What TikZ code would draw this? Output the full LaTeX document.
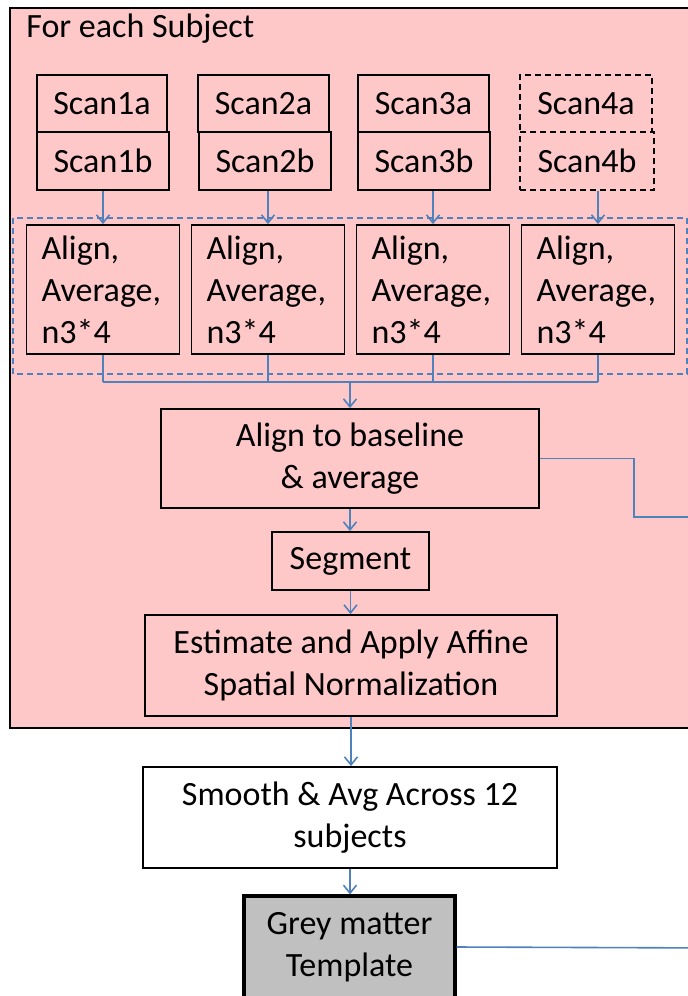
\documentclass[tikz,border=0pt]{standalone}
\usepackage{fontspec}
\setmainfont{Carlito}
\usetikzlibrary{arrows.meta}
\definecolor{subjpink}{RGB}{255,200,200}
\definecolor{flowblue}{RGB}{79,129,189}
\definecolor{tplgrey}{RGB}{192,192,192}
\tikzset{
  box/.style={draw=black, line width=0.9pt, fill=subjpink, inner sep=0pt,
    align=center, font=\fontsize{17pt}{21pt}\selectfont},
  dbox/.style={box, dashed, line width=0.8pt, dash pattern=on 3pt off 2pt},
  stepbox/.style={box, text width=61.5pt, align=left},
  flow/.style={draw=flowblue, line width=0.8pt},
  flowarrow/.style={flow, -{Straight Barb[length=4pt, width=6.5pt]}},
}
\begin{document}
\begin{tikzpicture}[x=0.5pt, y=-0.5pt]
\useasboundingbox (0,0) rectangle (688,996);
\clip (0,0) rectangle (688,996);

% per-subject container
\draw[fill=subjpink, line width=0.9pt] (10,8) rectangle (720,728);
\node[anchor=west, inner sep=0pt, font=\fontsize{17pt}{21pt}\selectfont] (title) at (26,29) {For each Subject};

% scan pairs
\node[box, minimum width=65pt, minimum height=28.5pt] (s1a) at (102,103.5) {Scan1a};
\node[box, minimum width=66pt, minimum height=29pt] (s1b) at (103,161) {Scan1b};
\node[box, minimum width=65.5pt, minimum height=28.5pt] (s2a) at (263.5,103.5) {Scan2a};
\node[box, minimum width=66pt, minimum height=29pt] (s2b) at (265,161) {Scan2b};
\node[box, minimum width=65.5pt, minimum height=28.5pt] (s3a) at (423.5,103.5) {Scan3a};
\node[box, minimum width=66pt, minimum height=29pt] (s3b) at (424,161) {Scan3b};
\node[dbox, minimum width=66pt, minimum height=28.5pt] (s4a) at (586,103.5) {Scan4a};
\node[dbox, minimum width=67pt, minimum height=29pt] (s4b) at (587,161) {Scan4b};

% dashed group around the per-scan steps
\draw[flow, dashed, line width=0.6pt, dash pattern=on 3pt off 2pt] (13,218) rectangle (687,374);

% per-scan align/average steps
\foreach \i/\cx in {1/103, 2/268, 3/433, 4/598} {
  \node[stepbox, minimum width=76.5pt, minimum height=64.5pt] (al\i) at (\cx,289.5)
    {Align,\\Average,\\n3*4};
}

% main chain
\node[box, minimum width=189pt, minimum height=49.5pt] (base) at (350,458.5) {Align to baseline\\\& average};
\node[box, minimum width=78.5pt, minimum height=29pt] (seg) at (350.5,561) {Segment};
\node[box, minimum width=206pt, minimum height=50.5pt] (aff) at (351,665.5) {Estimate and Apply Affine\\Spatial Normalization};
\node[box, fill=white, minimum width=207pt, minimum height=50.5pt] (smooth) at (350,817.5) {Smooth \& Avg Across 12\\subjects};
\node[box, fill=tplgrey, line width=1.6pt, minimum width=105.5pt, minimum height=51pt] (tpl) at (349.5,947) {Grey matter\\Template};

% scans into their steps
\foreach \i/\s in {1/s1b, 2/s2b, 3/s3b, 4/s4b} {
  \draw[flowarrow] (al\i.north |- \s.south) -- (al\i.north);
}

% merge of the four steps
\coordinate (merge) at (base.north |- 0,382);
\foreach \i in {1,2,3,4} {
  \draw[flow] (al\i.south) -- (al\i.south |- merge);
}
\draw[flow] (al1.south |- merge) -- (al4.south |- merge);
\draw[flowarrow] (merge) -- (base.north);

\draw[flowarrow] (base.south) -- (base.south |- seg.north);
\draw[flowarrow] (seg.south) -- (seg.south |- aff.north);
\draw[flowarrow] (aff.south) -- (aff.south |- smooth.north);
\draw[flowarrow] (smooth.south) -- (smooth.south |- tpl.north);

% outgoing lines to the right
\coordinate (outA) at (720,517);
\coordinate (outB) at (720,948);
\draw[flow] (base.east) -| (634,517) -- (outA);
\draw[flow] (tpl.east) -- (outB);
\end{tikzpicture}
\end{document}
